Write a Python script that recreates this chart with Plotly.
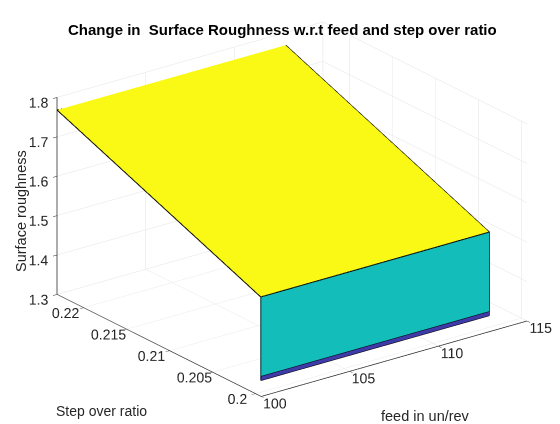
import math
import plotly.graph_objects as go

# ---- data ----
feed = [100.0, 112.9]                       # feed in un/rev (surface extent)
step = [0.1994, 0.1994, 0.1994, 0.2231]     # step over ratio rows
roughness = [1.340, 1.351, 1.552, 1.768]    # surface roughness per step row
face_colors = ["#3e3aa8", "#13bdb9", "#f9f915"]   # flat colours of faces between rows

feed_ticks = [100, 105, 110, 115]
step_ticks = [0.2, 0.205, 0.21, 0.215, 0.22]
step_tick_text = ["0.2", "0.205", "0.21", "0.215", "0.22"]
z_ticks = [1.3, 1.4, 1.5, 1.6, 1.7, 1.8]

feed_range = [100, 115]
step_range = [0.19935, 0.2231]
z_range = [1.3, 1.8]

# ---- build mesh from the grid ----
xs, ys, zs = [], [], []
for i in range(len(step)):
    for j in range(len(feed)):
        xs.append(feed[j]); ys.append(step[i]); zs.append(roughness[i])
nf = len(feed)
I, J, K, fc = [], [], [], []
for i in range(len(step) - 1):
    for j in range(nf - 1):
        a = i * nf + j; b = i * nf + j + 1
        c = (i + 1) * nf + j + 1; d = (i + 1) * nf + j
        I += [a, a]; J += [b, c]; K += [c, d]
        fc += [face_colors[i], face_colors[i]]

mesh = go.Mesh3d(x=xs, y=ys, z=zs, i=I, j=J, k=K, facecolor=fc, flatshading=True,
                 lighting=dict(ambient=1, diffuse=0, specular=0, roughness=1, fresnel=0),
                 hoverinfo="skip", showscale=False)

# edges
ex, ey, ez = [], [], []
for i in range(len(step)):
    for j in range(nf):
        ex.append(feed[j]); ey.append(step[i]); ez.append(roughness[i])
    ex.append(None); ey.append(None); ez.append(None)
for j in range(nf):
    for i in range(len(step)):
        ex.append(feed[j]); ey.append(step[i]); ez.append(roughness[i])
    ex.append(None); ey.append(None); ez.append(None)
edges = go.Scatter3d(x=ex, y=ey, z=ez, mode="lines", line=dict(color="black", width=2),
                     hoverinfo="skip", showlegend=False)

fig = go.Figure([mesh, edges])

font_family = "Liberation Sans, Arial, sans-serif"
axcol = "#262626"
gridcol = "#e3e3e3"
tickfont = dict(family=font_family, size=13, color=axcol)
common = dict(showbackground=False, showgrid=True, gridcolor=gridcol, gridwidth=1,
              showline=True, linecolor=axcol, linewidth=1.5, zeroline=False,
              ticks="inside", ticklen=5, tickcolor=axcol, tickfont=tickfont,
              tickangle=0, showspikes=False, title=dict(text=""))

alpha = math.radians(53.0)
el = math.radians(20.24)
d = 1.544
eye = dict(x=-d * math.cos(el) * math.cos(alpha), y=-d * math.cos(el) * math.sin(alpha),
           z=d * math.sin(el))
s = 1.57

fig.update_layout(
    width=560, height=424, margin=dict(l=0, r=0, t=0, b=0),
    paper_bgcolor="white",
    scene=dict(
        domain=dict(x=[0.027, 0.987], y=[0, 1]),
        aspectmode="manual", aspectratio=dict(x=1 * s, y=1.019 * s, z=0.639 * s),
        camera=dict(eye=eye, up=dict(x=0, y=0, z=1), center=dict(x=0, y=0, z=-0.055),
                    projection=dict(type="orthographic")),
        xaxis=dict(range=feed_range, tickvals=feed_ticks, **common),
        yaxis=dict(range=step_range, tickvals=step_ticks, ticktext=step_tick_text, **common),
        zaxis=dict(range=z_range, tickvals=z_ticks, **common),
        dragmode=False,
    ),
    annotations=[
        dict(text="<b>Change in  Surface Roughness w.r.t feed and step over ratio</b>",
             x=274 / 560, y=1 - 21 / 424, xref="paper", yref="paper",
             showarrow=False, xanchor="center", yanchor="middle",
             font=dict(family=font_family, size=15, color="black")),
        dict(text="Surface roughness", x=13 / 560, y=1 - 203 / 424, xref="paper", yref="paper",
             textangle=-90, showarrow=False, xanchor="center", yanchor="middle",
             font=dict(family=font_family, size=14.5, color=axcol)),
        dict(text="Step over ratio", x=93.5 / 560, y=1 - 403 / 424, xref="paper", yref="paper",
             showarrow=False, xanchor="center", yanchor="middle",
             font=dict(family=font_family, size=14, color=axcol)),
        dict(text="feed in un/rev", x=417.5 / 560, y=1 - 408 / 424, xref="paper", yref="paper",
             showarrow=False, xanchor="center", yanchor="middle",
             font=dict(family=font_family, size=14.5, color=axcol)),
    ],
    showlegend=False,
)

fig.write_html("out.html")
